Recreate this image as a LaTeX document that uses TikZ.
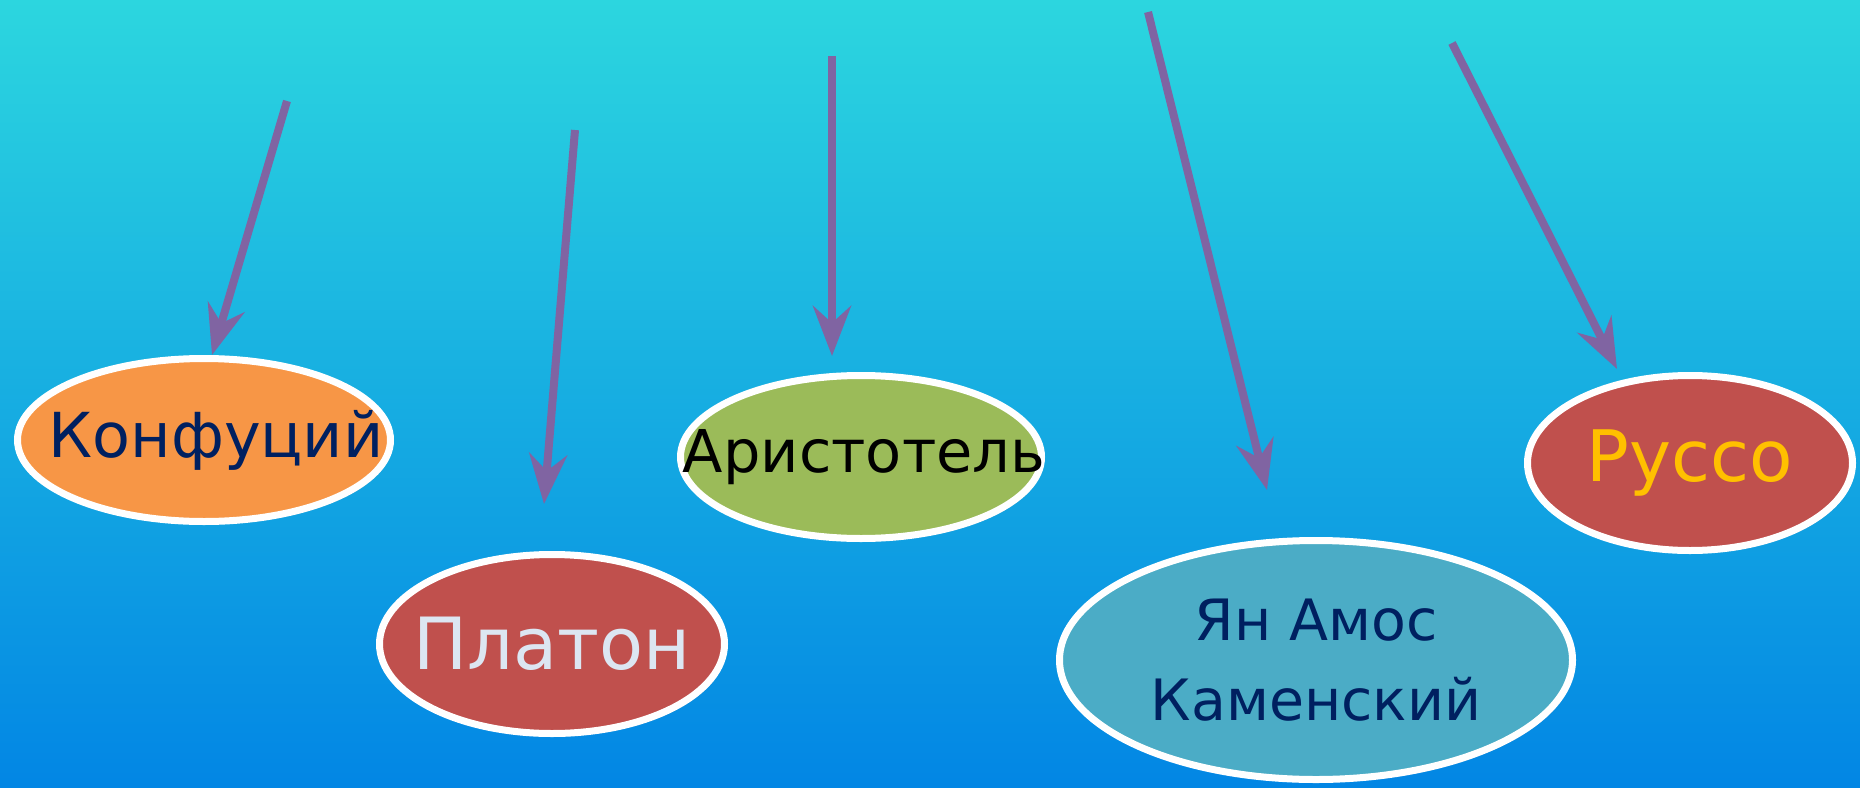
\documentclass[tikz,border=0pt]{standalone}
\usepackage{fontspec}
\setmainfont{DejaVu Sans}
\usetikzlibrary{arrows.meta,shapes.geometric,shadows}
\definecolor{SkyTop}{HTML}{2CD6DF}
\definecolor{SkyBottom}{HTML}{0286E4}
\definecolor{ArrowViolet}{HTML}{8064A2}
\definecolor{FillOrange}{HTML}{F79646}
\definecolor{FillRed}{HTML}{C0504D}
\definecolor{FillGreen}{HTML}{9BBB59}
\definecolor{FillTeal}{HTML}{4BACC6}
\definecolor{TextNavy}{HTML}{002060}
\definecolor{TextPale}{HTML}{DCE6F2}
\definecolor{TextGold}{HTML}{FFC000}
\tikzset{
  thinker/.style={ellipse, draw=white, line width=7pt, inner sep=0pt,
    drop shadow={opacity=0.25, shadow xshift=2pt, shadow yshift=-3pt}},
  pointer/.style={ArrowViolet, line width=8pt,
    -{Stealth[length=50pt, width=38pt, inset=17pt]}}
}

\begin{document}
\begin{tikzpicture}[x=1pt, y=-1pt]
\useasboundingbox (0,0) rectangle (1860,787);

% Sky background
\shade[top color=SkyTop, bottom color=SkyBottom] (0,0) rectangle (1860,787);

% Thinkers
\node[thinker, fill=FillOrange, minimum width=373pt, minimum height=163pt,
  label={[text=TextNavy, font=\fontsize{62}{66}\selectfont, xshift=12pt]center:Конфуций}]
  (kon) at (204,440) {};
\node[thinker, fill=FillRed, minimum width=345pt, minimum height=179pt,
  label={[text=TextPale, font=\fontsize{72}{76}\selectfont]center:Платон}]
  (pla) at (552,644) {};
\node[thinker, fill=FillGreen, minimum width=361pt, minimum height=163pt,
  label={[text=black, font=\fontsize{59}{62}\selectfont, xshift=3pt]center:Аристотель}]
  (ari) at (861,457) {};
\node[thinker, fill=FillTeal, minimum width=513pt, minimum height=239pt,
  label={[text=TextNavy, align=center, font=\fontsize{57}{80}\selectfont]center:Ян Амос\\Каменский}]
  (yan) at (1316,660) {};
\node[thinker, fill=FillRed, minimum width=325pt, minimum height=175pt,
  label={[text=TextGold, font=\fontsize{71}{74}\selectfont]center:Руссо}]
  (rus) at (1690,463) {};

% Arrow tails
\coordinate (kon-src) at (287,101);
\coordinate (pla-src) at (575,130);
\coordinate (ari-src) at (832,56);
\coordinate (yan-src) at (1148,12);
\coordinate (rus-src) at (1452,43);

% Arrows
\draw[pointer] (kon-src) -- ([xshift=8pt]kon.north);
\draw[pointer] (pla-src) -- ([xshift=-8pt, yshift=47pt]pla.north);
\draw[pointer] (ari-src) -- ([xshift=-29pt, yshift=16pt]ari.north);
\draw[pointer] (yan-src) -- ([xshift=-49pt, yshift=47pt]yan.north);
\draw[pointer] (rus-src) -- ([xshift=-73pt, yshift=3pt]rus.north);

\end{tikzpicture}
\end{document}
